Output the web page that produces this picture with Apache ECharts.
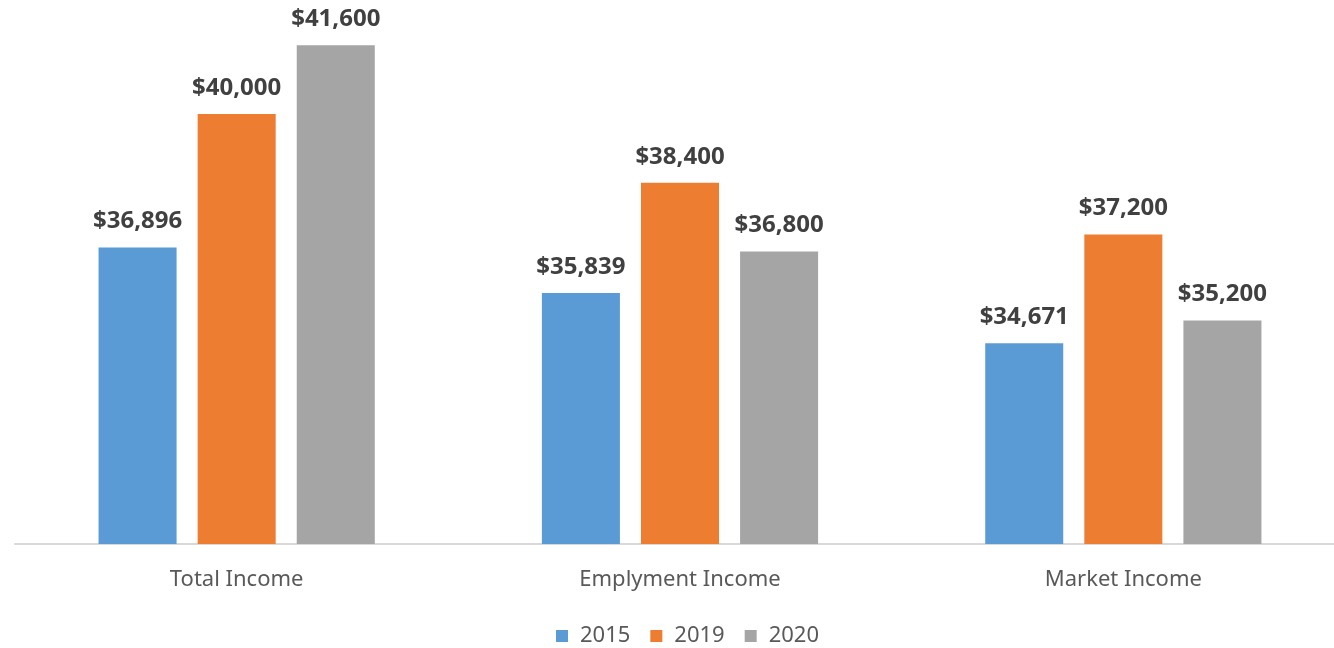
<!DOCTYPE html>
<html><head><meta charset="utf-8">
<script src="https://cdn.jsdelivr.net/npm/echarts@6/dist/echarts.min.js"></script>
<style>html,body{margin:0;padding:0;background:#fff}#c{width:1334px;height:648px}</style>
</head><body><div id="c"></div>
<script>
const categories = ["Total Income", "Emplyment Income", "Market Income"];
const years = ["2015", "2019", "2020"];
const values2015 = [36896, 35839, 34671];
const values2019 = [40000, 38400, 37200];
const values2020 = [41600, 36800, 35200];
const colors = ["#5B9BD5", "#ED7D31", "#A5A5A5"];
const font = "Noto Sans";
const fmt = v => "$" + v.toLocaleString("en-US");
const chart = echarts.init(document.getElementById('c'));
const seriesData = [values2015, values2019, values2020];
chart.setOption({
  animation: false,
  color: colors,
  textStyle: {fontFamily: font},
  grid: {left: 15, width: 1330, top: 28, bottom: 104, containLabel: false, outerBoundsMode: 'none'},
  legend: {top: 620, left: 551, itemWidth: 12, itemHeight: 12, itemGap: 20, icon: 'rect',
    textStyle: {fontSize: 22, color: '#595959', fontFamily: font, padding: [0, 0, 0, 7]}},
  xAxis: {type: 'category', data: categories,
    axisLine: {lineStyle: {color: '#D9D9D9', width: 2}}, axisTick: {show: false},
    axisLabel: {fontSize: 22, color: '#595959', margin: 25, fontFamily: font}},
  yAxis: {type: 'value', min: 30000, max: 42000, show: false, splitLine: {show: false}},
  series: years.map((y, i) => ({
    name: y, type: 'bar', data: seriesData[i], barWidth: '17.6%', barGap: '27%',
    label: {show: true, position: 'top', distance: 14, formatter: p => fmt(p.value),
      fontSize: 24, fontWeight: 'bold', color: '#404040', fontFamily: font}
  }))
});
</script></body></html>
